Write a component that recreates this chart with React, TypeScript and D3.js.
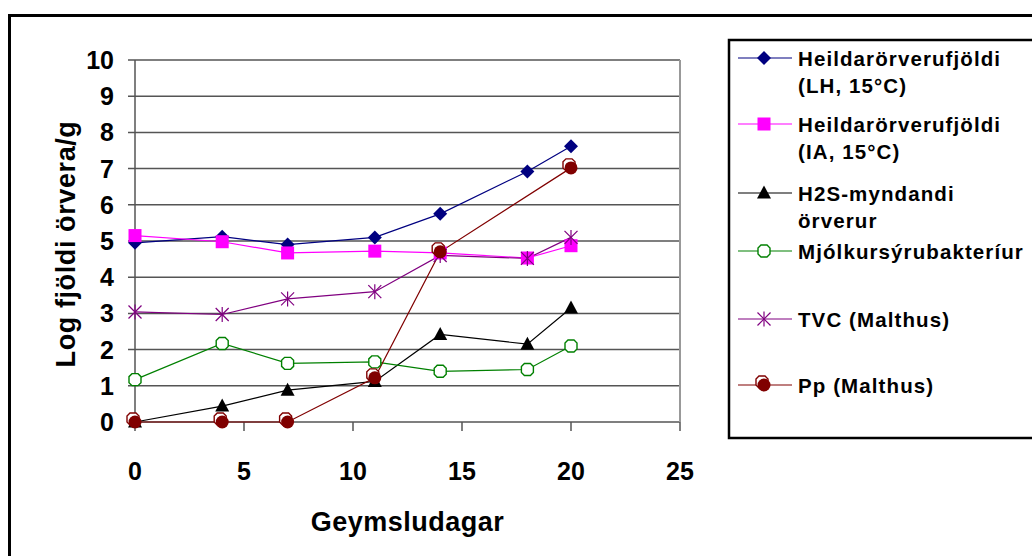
import React from "react";
import * as d3 from "d3";

const days = [0, 4, 7, 11, 14, 18, 20];
const ppDays = [0, 4, 7, 11, 14, 20];
const lhValues = [4.95, 5.12, 4.9, 5.1, 5.75, 6.92, 7.62];
const iaValues = [5.15, 4.98, 4.67, 4.72, 4.67, 4.53, 4.87];
const h2sValues = [0.0, 0.44, 0.88, 1.12, 2.42, 2.15, 3.15];
const labValues = [1.17, 2.17, 1.62, 1.66, 1.4, 1.45, 2.1];
const tvcValues = [3.04, 2.97, 3.4, 3.6, 4.6, 4.52, 5.1];
const ppValues = [0, 0, 0, 1.22, 4.7, 7.02];

const xTicks = [0, 5, 10, 15, 20, 25];
const yTicks = [0, 1, 2, 3, 4, 5, 6, 7, 8, 9, 10];

const xTitle = "Geymsludagar";
const yTitle = "Log fjöldi örvera/g";

type Marker = "diamond" | "square" | "triangle" | "octagon" | "star" | "pp";

const seriesList: { lines: string[]; color: string; marker: Marker; x: number[]; y: number[] }[] = [
  { lines: ["Heildarörverufjöldi", "(LH, 15°C)"], color: "#000080", marker: "diamond", x: days, y: lhValues },
  { lines: ["Heildarörverufjöldi", "(IA, 15°C)"], color: "#FF00FF", marker: "square", x: days, y: iaValues },
  { lines: ["H2S-myndandi", "örverur"], color: "#000000", marker: "triangle", x: days, y: h2sValues },
  { lines: ["Mjólkursýrubakteríur"], color: "#008000", marker: "octagon", x: days, y: labValues },
  { lines: ["TVC (Malthus)"], color: "#800080", marker: "star", x: days, y: tvcValues },
  { lines: ["Pp (Malthus)"], color: "#800000", marker: "pp", x: ppDays, y: ppValues },
];

const legendRowY = [58, 124, 193, 251, 319, 385];

const FONT = "'Liberation Sans', Arial, Helvetica, sans-serif";

function octagonPath(cx: number, cy: number, r: number) {
  const c = r * 0.5;
  return `M${cx - c},${cy - r}L${cx + c},${cy - r}L${cx + r},${cy - c}L${cx + r},${cy + c}L${cx + c},${cy + r}L${cx - c},${cy + r}L${cx - r},${cy + c}L${cx - r},${cy - c}Z`;
}

function MarkerShape({ type, cx, cy, color }: { type: Marker; cx: number; cy: number; color: string }) {
  switch (type) {
    case "diamond":
      return <path d={`M${cx},${cy - 7}L${cx + 7},${cy}L${cx},${cy + 7}L${cx - 7},${cy}Z`} fill={color} />;
    case "square":
      return <rect x={cx - 6.5} y={cy - 6.5} width={13} height={13} fill={color} />;
    case "triangle":
      return <path d={`M${cx},${cy - 7.5}L${cx + 7},${cy + 5.5}L${cx - 7},${cy + 5.5}Z`} fill={color} />;
    case "octagon":
      return <path d={octagonPath(cx, cy, 6)} fill="#fff" stroke={color} strokeWidth={1.4} />;
    case "star":
      return (
        <g stroke={color} strokeWidth={1.2}>
          <line x1={cx - 6.5} y1={cy - 6.5} x2={cx + 6.5} y2={cy + 6.5} />
          <line x1={cx - 6.5} y1={cy + 6.5} x2={cx + 6.5} y2={cy - 6.5} />
          <line x1={cx} y1={cy - 7.5} x2={cx} y2={cy + 7.5} />
        </g>
      );
    case "pp":
      return (
        <g>
          <path d={octagonPath(cx - 2, cy - 3, 6)} fill="#fff" stroke={color} strokeWidth={1.4} />
          <circle cx={cx} cy={cy} r={6.5} fill={color} />
        </g>
      );
  }
  return null;
}

export default function App() {
  const x = d3.scaleLinear().domain([0, 25]).range([135, 680]);
  const y = d3.scaleLinear().domain([0, 10]).range([422, 60]);

  return (
    <svg
      width={1032}
      height={556}
      style={{ position: "absolute", left: 0, top: 0, background: "#fff" }}
      fontFamily={FONT}
    >
      <rect x={0} y={0} width={1032} height={556} fill="#fff" />
      {/* outer chart border */}
      <rect x={9.5} y={15.5} width={1040} height={560} fill="none" stroke="#000" strokeWidth={3} />

      {/* gridlines */}
      {yTicks.map((t) => (
        <line key={"g" + t} x1={128} x2={680} y1={y(t)} y2={y(t)} stroke="#555" strokeWidth={1.5} />
      ))}
      {/* right plot border */}
      <line x1={680} x2={680} y1={60} y2={422} stroke="#999" strokeWidth={2} />
      {/* y axis */}
      <line x1={135} x2={135} y1={60} y2={422} stroke="#555" strokeWidth={1.5} />
      {/* x ticks */}
      {xTicks.map((t) => (
        <line key={"xt" + t} x1={x(t)} x2={x(t)} y1={422} y2={431} stroke="#555" strokeWidth={1.5} />
      ))}

      {/* y tick labels */}
      {yTicks.map((t) => (
        <text key={"yl" + t} x={114} y={y(t)} dy="0.36em" textAnchor="end" fontSize={25} fontWeight="bold">
          {t}
        </text>
      ))}
      {/* x tick labels */}
      {xTicks.map((t) => (
        <text key={"xl" + t} x={x(t)} y={480} textAnchor="middle" fontSize={25} fontWeight="bold">
          {t}
        </text>
      ))}

      <text x={(135 + 680) / 2} y={531} textAnchor="middle" fontSize={27} fontWeight="bold" letterSpacing={0.5}>
        {xTitle}
      </text>
      <text
        transform={`translate(75,244) rotate(-90)`}
        textAnchor="middle"
        fontSize={27}
        fontWeight="bold"
        letterSpacing={0.6}
      >
        {yTitle}
      </text>

      {/* series lines */}
      {seriesList.map((s, i) => {
        const pts: [number, number][] = s.x.map((d, j) => [x(d), y(s.y[j])]);
        const line = d3.line();
        return <path key={"l" + i} d={line(pts) || ""} fill="none" stroke={s.color} strokeWidth={1.2} />;
      })}
      {/* markers */}
      {seriesList.map((s, i) => (
        <g key={"m" + i}>
          {s.x.map((d, j) => (
            <MarkerShape key={j} type={s.marker} cx={x(d)} cy={y(s.y[j])} color={s.color} />
          ))}
        </g>
      ))}

      {/* legend */}
      <rect x={729} y={40} width={330} height={398} fill="#fff" stroke="#000" strokeWidth={2.5} />
      {seriesList.map((s, i) => {
        const ly = legendRowY[i];
        return (
          <g key={"lg" + i}>
            <line x1={738} x2={792} y1={ly} y2={ly} stroke={s.color} strokeWidth={1.2} />
            <MarkerShape type={s.marker} cx={764} cy={ly} color={s.color} />
            {s.lines.map((t, k) => (
              <text
                key={k}
                x={798}
                y={ly + 7.5 + k * 27}
                fontSize={20.5}
                fontWeight="bold"
                letterSpacing={1.1}
              >
                {t}
              </text>
            ))}
          </g>
        );
      })}
    </svg>
  );
}
